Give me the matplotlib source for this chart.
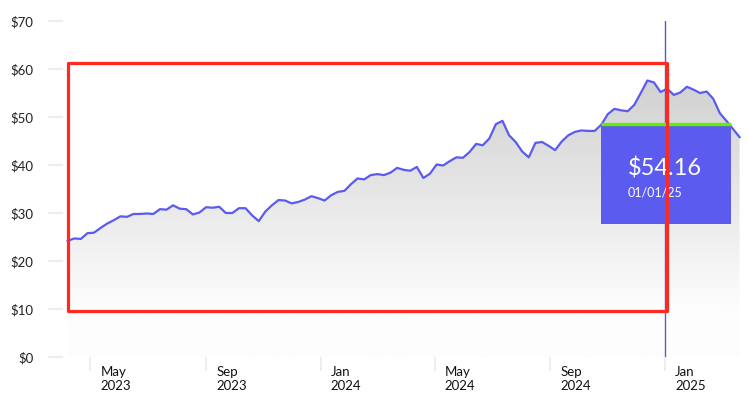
import matplotlib
matplotlib.use('Agg')
import matplotlib.pyplot as plt
import matplotlib.dates as mdates
from matplotlib.patches import Rectangle
import numpy as np
import pandas as pd

# weekly closes
dates = pd.date_range('2023-04-07', '2025-03-21', freq='7D')
prices = [24.2, 24.7, 24.6, 25.8, 25.9, 26.9, 27.8, 28.5, 29.3, 29.2,
          29.8, 29.8, 29.9, 29.8, 30.8, 30.7, 31.6, 30.9, 30.8, 29.7,
          30.1, 31.2, 31.1, 31.3, 30.0, 30.0, 31.0, 31.0, 29.5, 28.3,
          30.3, 31.6, 32.7, 32.6, 32.0, 32.3, 32.8, 33.5, 33.1, 32.6,
          33.7, 34.4, 34.6, 36.0, 37.2, 37.0, 37.9, 38.1, 37.9, 38.4,
          39.4, 39.0, 38.8, 39.6, 37.3, 38.2, 40.1, 39.9, 40.8, 41.6,
          41.5, 42.7, 44.4, 44.1, 45.5, 48.5, 49.2, 46.2, 44.8, 42.8,
          41.6, 44.6, 44.8, 44.0, 43.1, 44.9, 46.2, 46.9, 47.2, 47.1,
          47.1, 48.4, 50.6, 51.7, 51.4, 51.2, 52.5, 55.0, 57.6, 57.2,
          55.2, 55.9, 54.6, 55.1, 56.3, 55.7, 55.0, 55.3, 53.8, 50.8,
          49.2, 47.5, 45.8]

tick_dates = ['2023-05-01', '2023-09-01', '2024-01-01',
              '2024-05-01', '2024-09-01', '2025-01-01']
tick_labels = ['May\n2023', 'Sep\n2023', 'Jan\n2024',
               'May\n2024', 'Sep\n2024', 'Jan\n2025']
y_ticks = [0, 10, 20, 30, 40, 50, 60, 70]

hover_date = '2025-01-01'
hover_price = '$54.16'
hover_label = '01/01/25'

# red highlight box
hl_start, hl_end = '2023-04-07', '2025-01-03'
hl_low, hl_high = 9.6, 61.3

line_col = '#5b5bef'
plt.rcParams['font.family'] = ['Lato', 'DejaVu Sans']

fig = plt.figure(figsize=(7.49, 4.0), dpi=100)
ax = fig.add_axes([63/749, 0.1075, 686/749, 0.84])

x = mdates.date2num(dates)
ax.plot(dates, prices, color=line_col, lw=1.6, zorder=3)

# gradient fill under the line
poly = ax.fill_between(dates, prices, 0, color='none', lw=0)
v = np.linspace(0, 60, 400)
g = np.clip(253 - (v - 10) / 50 * 46, 205, 253)
g[v < 10] = 253
img = np.repeat((g / 255.)[:, None, None], 3, axis=2)
im = ax.imshow(img, extent=[x[0], x[-1], 0, 60], origin='lower',
               aspect='auto', zorder=1, interpolation='bilinear')
im.set_clip_path(poly.get_paths()[0], transform=ax.transData)

ax.set_xlim(mdates.datestr2num('2023-04-02'), mdates.datestr2num('2025-03-31'))
ax.set_ylim(0, 70)

for s in ax.spines.values():
    s.set_visible(False)

ax.set_yticks(y_ticks)
ax.set_yticklabels([f'${t}' for t in y_ticks])
ax.tick_params(axis='y', length=10.8, width=1.5, color='#eeeeee', pad=10.5,
               labelsize=9.5, labelcolor='#222222')

ax.set_xticks([mdates.datestr2num(d) for d in tick_dates])
ax.tick_params(axis='x', length=10, width=1.5, color='#eeeeee', labelbottom=False)
for d, lbl in zip(tick_dates, tick_labels):
    ax.annotate(lbl, xy=(mdates.datestr2num(d), 0), xycoords=('data', 'axes fraction'),
                xytext=(7.2, -6.5), textcoords='offset points', ha='left', va='top',
                fontsize=9.5, color='#111111', linespacing=1.15)

# hover line
ax.axvline(mdates.datestr2num(hover_date), color='#5a5ad0', lw=1, zorder=4)

# tooltip
ax.add_patch(Rectangle((601/749, 1 - 224/400), 130/749, 101/400, transform=fig.transFigure,
                       facecolor='#5b5bf0', edgecolor='none', zorder=6, clip_on=False))
ax.plot([601/749, 731/749], [1 - 123.5/400] * 2, transform=fig.transFigure,
        color='#66ee00', lw=2.4, solid_capstyle='butt', zorder=7, clip_on=False)
ax.text(628/749, 1 - 176/400, hover_price, transform=fig.transFigure, color='white',
        fontsize=17, va='baseline', ha='left', zorder=7)
ax.text(628/749, 1 - 197/400, hover_label, transform=fig.transFigure, color='white',
        fontsize=9, va='baseline', ha='left', zorder=7)

# highlight rectangle
x0 = mdates.datestr2num(hl_start)
x1 = mdates.datestr2num(hl_end)
ax.add_patch(Rectangle((x0, hl_low), x1 - x0, hl_high - hl_low, fill=False,
                       edgecolor='#ff2a1f', lw=2.3, joinstyle='round', zorder=9, clip_on=False))

plt.savefig('out.png', dpi=100)
